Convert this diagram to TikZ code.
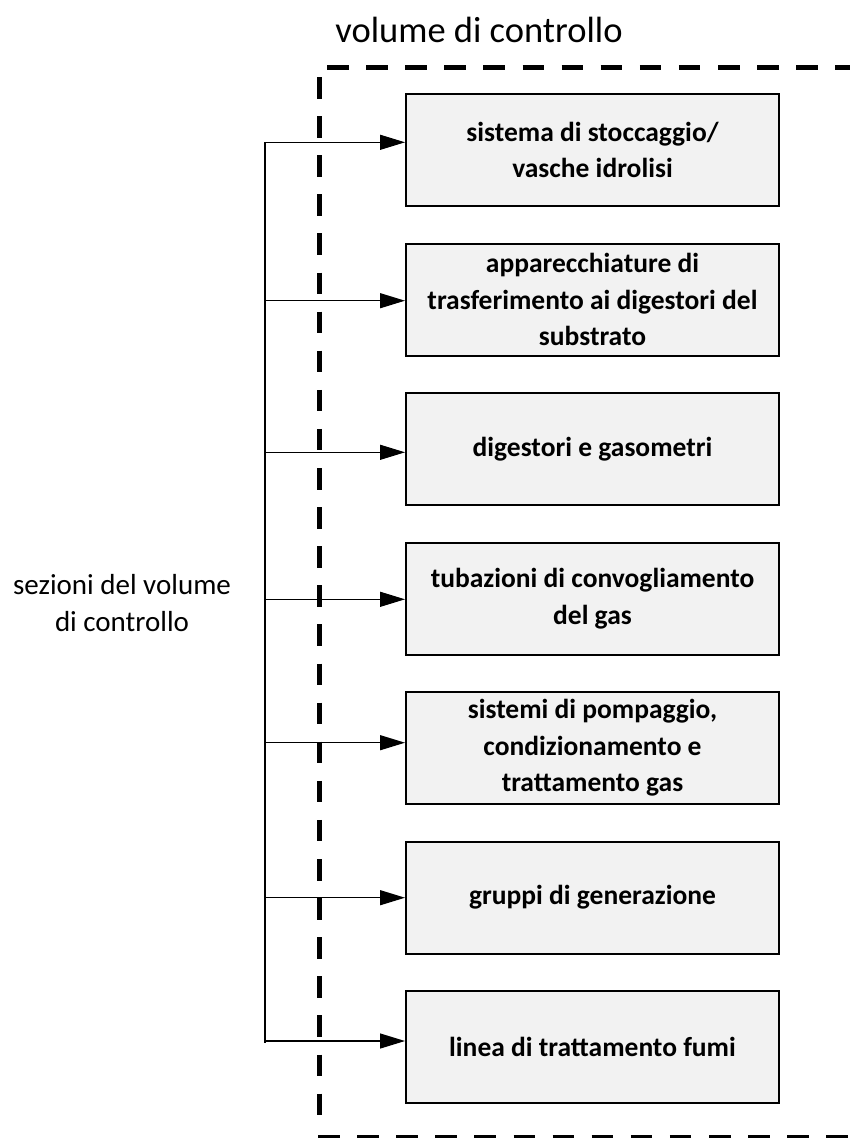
\documentclass[tikz,border=0pt]{standalone}
\usepackage{fontspec}
\setmainfont{Carlito}
\usetikzlibrary{arrows.meta}
\begin{document}
\begin{tikzpicture}[x=1pt,y=-1pt,
  section/.style={draw=black, line width=2pt, fill=black!5, minimum width=373pt,
    minimum height=112pt, inner sep=0pt, align=center,
    font=\bfseries\fontsize{27.5}{36.5}\selectfont},
  boundary/.style={line width=5.3pt, dash pattern=on 21.5pt off 17.6pt},
  feed/.style={line width=1.3pt, -{Triangle[length=25pt,width=15pt]}},
  trunk/.style={line width=1.3pt},
  caption/.style={font=\fontsize{29}{36.5}\selectfont, align=center}]
\useasboundingbox (0,0) rectangle (850,1138);
\clip (0,0) rectangle (850,1138);

% control-volume boundary (open to the right)
\coordinate (cvTL) at (319.3,77);
\coordinate (cvBL) at (319.3,1117);
\coordinate (cvTop) at (327,67.3);
\coordinate (cvTopR) at (870,67.3);
\coordinate (cvBot) at (318,1138);
\coordinate (cvBotR) at (870,1138);
\draw[boundary] (cvTL) -- (cvBL);
\draw[boundary] (cvTop) -- (cvTopR);
\draw[boundary] (cvBot) -- (cvBotR);

\node[font=\fontsize{36.5}{40}\selectfont] (title) at (479,30) {volume di controllo};

% sections
\node[section] (s1) at (592.5,150)   {sistema di stoccaggio/\\vasche idrolisi};
\node[section] (s2) at (592.5,299.5) {apparecchiature di\\trasferimento ai digestori del\\substrato};
\node[section] (s3) at (592.5,449)   {digestori e gasometri};
\node[section] (s4) at (592.5,598.5) {tubazioni di convogliamento\\del gas};
\node[section] (s5) at (592.5,748)   {sistemi di pompaggio,\\condizionamento e\\trattamento gas};
\node[section] (s6) at (592.5,897.5) {gruppi di generazione};
\node[section] (s7) at (592.5,1047)  {linea di trattamento fumi};

\node[caption] (lbl) at (122,603) {sezioni del volume\\di controllo};

% branch points on the collecting line
\coordinate (b1) at (265,142.3);
\coordinate (b2) at (265,300.7);
\coordinate (b3) at (265,452.3);
\coordinate (b4) at (265,599.3);
\coordinate (b5) at (265,742.7);
\coordinate (b6) at (265,897.7);
\coordinate (b7) at (265,1041);
\coordinate (bEnd) at (265,1043);

\draw[trunk] (b1) -- (bEnd);
\foreach \i in {1,...,7}{
  \draw[feed] (b\i) -- (b\i -| s\i.west);
}
\end{tikzpicture}
\end{document}
